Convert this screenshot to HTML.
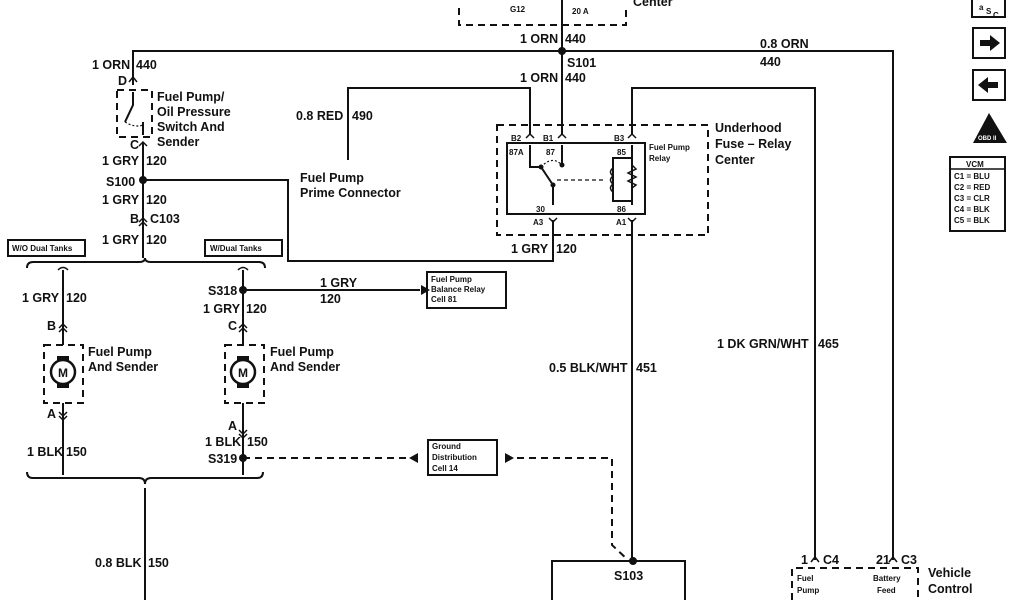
<!DOCTYPE html>
<html><head><meta charset="utf-8"><style>
html,body{margin:0;padding:0;background:#fff;}
svg{display:block;}
text{font-family:"Liberation Sans",sans-serif;font-weight:bold;fill:#111;}
</style></head><body>
<svg width="1024" height="600" viewBox="0 0 1024 600" xmlns="http://www.w3.org/2000/svg">
<g stroke="#111" stroke-width="2" fill="none">
<path d="M459 8 V25 H626 V8" stroke-dasharray="7,5"/>
<path d="M562 0 V51"/>
<path d="M133 85 V51 H893 V560"/>
<path d="M562 51 V135"/>
<rect x="117" y="90" width="35" height="47" stroke-dasharray="7,5"/>
<path d="M133 92 V105 L125 122"/>
<path d="M125 122 Q135 128 143 125" stroke-dasharray="2,2" stroke-width="1.2"/>
<path d="M143 122 V135"/>
<path d="M143 143 V258"/>
<path d="M143 180 H288 V261 H553 V220"/>
<path d="M348 160 V88 H530 V135"/>
<path d="M632 135 V88 H815 V560"/>
<path d="M632 220 V562"/>
<rect x="497" y="125" width="211" height="110" stroke-dasharray="7,5"/>
<rect x="507" y="143" width="138" height="71"/>
<path d="M530 145 V167 H541 L553 185 V205"/>
<path d="M541 167 Q552 155 562 165" stroke-dasharray="2,2" stroke-width="1.2"/>
<path d="M562 145 V165"/>
<path d="M557 180 H603" stroke-dasharray="4,3" stroke-width="1.2"/>
<path d="M632 145 V205"/>
<path d="M632 158 H613 V201 H632"/>
<path d="M613 168 q-5 4 0 8 q-5 4 0 8 q-5 4 0 8" stroke-width="1.5"/>
<path d="M632 165 l4 4 -8 4 8 4 -8 4 8 4 -4 3" stroke-width="1.5"/>
<rect x="8" y="240" width="77" height="16" stroke-width="2"/>
<rect x="205" y="240" width="77" height="16" stroke-width="2"/>
<path d="M27 268 Q27 262 33 262 H139 Q145 262 145 258 Q145 262 151 262 H259 Q265 262 265 268"/>
<path d="M63 270 V345 M63 403 V475"/>
<path d="M58 270 Q63 265 68 270" stroke-width="1.5"/>
<rect x="44" y="345" width="39" height="58" stroke-dasharray="7,5"/>
<circle cx="63" cy="372" r="12" stroke-width="2.5"/>
<path d="M243 270 V345 M243 403 V475"/>
<path d="M238 270 Q243 265 248 270" stroke-width="1.5"/>
<rect x="225" y="345" width="39" height="58" stroke-dasharray="7,5"/>
<circle cx="243" cy="372" r="12" stroke-width="2.5"/>
<path d="M243 290 H420"/>
<rect x="427" y="272" width="79" height="36"/>
<path d="M243 458 H418" stroke-dasharray="7,5"/>
<rect x="428" y="440" width="69" height="35"/>
<path d="M505 458 H612 V545 L628 560" stroke-dasharray="7,5"/>
<path d="M27 472 Q27 478 33 478 H139 Q145 478 145 484 Q145 478 151 478 H257 Q263 478 263 472"/>
<path d="M145 488 V600"/>
<path d="M552 600 V561 H685 V600"/>
<path d="M792 600 V568 H918 V600" stroke-dasharray="7,5"/>
<rect x="972" y="-2" width="33" height="19"/>
<rect x="973" y="28" width="32" height="30"/>
<rect x="973" y="70" width="32" height="30"/>
<rect x="950" y="157" width="55" height="74"/>
<path d="M950 169 H1005" stroke-width="1.5"/>
</g>
<g fill="#111">
<path d="M980 40 h10 v-5 l10 8 -10 8 v-5 h-10z"/>
<path d="M998 82 h-10 v-5 l-10 8 10 8 v-5 h10z"/>
<path d="M989 113 L973 143 H1007Z"/>
<path d="M421 285 L430 290 421 295Z"/>
<path d="M418 453 L409 458 418 463Z"/>
<path d="M505 453 L514 458 505 463Z"/>
<circle cx="143" cy="180" r="4"/>
<circle cx="562" cy="51" r="4"/>
<circle cx="243" cy="290" r="4"/>
<circle cx="243" cy="458" r="4"/>
<circle cx="633" cy="561" r="4"/>
<circle cx="541" cy="167" r="2.5"/><circle cx="562" cy="165" r="2.5"/><circle cx="553" cy="185" r="2.5"/>
<rect x="57" y="356" width="12" height="5"/><rect x="57" y="383" width="12" height="5"/>
<rect x="237" y="356" width="12" height="5"/><rect x="237" y="383" width="12" height="5"/>
</g>
<g stroke="#111" stroke-width="1.5" fill="none">
<path d="M129 82 l4 -5 4 5 M139 146 l4 -4 4 4 M139 222 l4 -4 4 4 M139 226 l4 -4 4 4"/>
<path d="M526 138 l4 -4 4 4 M558 138 l4 -4 4 4 M628 138 l4 -4 4 4 M549 218 l4 4 4 -4 M628 218 l4 4 4 -4"/>
<path d="M59 328 l4 -4 4 4 M59 332 l4 -4 4 4 M59 412 l4 4 4 -4 M59 416 l4 4 4 -4"/>
<path d="M239 328 l4 -4 4 4 M239 332 l4 -4 4 4 M239 430 l4 4 4 -4 M239 434 l4 4 4 -4"/>
<path d="M811 562 l4 -5 4 5 M889 562 l4 -5 4 5"/>
</g>
<g font-size="12.5">
<text x="58" y="377" font-size="12">M</text><text x="238" y="377" font-size="12">M</text>
<text x="92" y="69">1 ORN</text><text x="136" y="69">440</text>
<text x="118" y="85">D</text>
<text x="157" y="101">Fuel Pump/</text><text x="157" y="116">Oil Pressure</text><text x="157" y="131">Switch And</text><text x="157" y="146">Sender</text>
<text x="130" y="149">C</text>
<text x="102" y="165">1 GRY</text><text x="146" y="165">120</text>
<text x="106" y="186">S100</text>
<text x="102" y="204">1 GRY</text><text x="146" y="204">120</text>
<text x="130" y="223">B</text><text x="150" y="223">C103</text>
<text x="102" y="244">1 GRY</text><text x="146" y="244">120</text>
<text x="296" y="120">0.8 RED</text><text x="352" y="120">490</text>
<text x="300" y="182">Fuel Pump</text><text x="300" y="197">Prime Connector</text>
<text x="520" y="43">1 ORN</text><text x="565" y="43">440</text>
<text x="567" y="67">S101</text>
<text x="520" y="82">1 ORN</text><text x="565" y="82">440</text>
<text x="760" y="48">0.8 ORN</text><text x="760" y="66">440</text>
<text x="715" y="132">Underhood</text><text x="715" y="148">Fuse – Relay</text><text x="715" y="164">Center</text>
<text x="633" y="6">Center</text>
<text x="511" y="253">1 GRY</text><text x="556" y="253">120</text>
<text x="22" y="302">1 GRY</text><text x="66" y="302">120</text>
<text x="47" y="330">B</text><text x="47" y="418">A</text>
<text x="88" y="356">Fuel Pump</text><text x="88" y="371">And Sender</text>
<text x="27" y="456">1 BLK</text><text x="66" y="456">150</text>
<text x="208" y="295">S318</text>
<text x="203" y="313">1 GRY</text><text x="246" y="313">120</text>
<text x="228" y="330">C</text><text x="228" y="430">A</text>
<text x="270" y="356">Fuel Pump</text><text x="270" y="371">And Sender</text>
<text x="205" y="446">1 BLK</text><text x="247" y="446">150</text>
<text x="208" y="463">S319</text>
<text x="320" y="287">1 GRY</text><text x="320" y="303">120</text>
<text x="549" y="372">0.5 BLK/WHT</text><text x="636" y="372">451</text>
<text x="717" y="348">1 DK GRN/WHT</text><text x="818" y="348">465</text>
<text x="95" y="567">0.8 BLK</text><text x="148" y="567">150</text>
<text x="614" y="580">S103</text>
<text x="801" y="564">1</text><text x="823" y="564">C4</text>
<text x="876" y="564">21</text><text x="901" y="564">C3</text>
<text x="928" y="577">Vehicle</text><text x="928" y="593">Control</text>
</g>
<g font-size="8">
<text x="12" y="251">W/O Dual Tanks</text><text x="210" y="251">W/Dual Tanks</text>
<text x="431" y="282">Fuel Pump</text><text x="431" y="292">Balance Relay</text><text x="431" y="302">Cell 81</text>
<text x="432" y="449">Ground</text><text x="432" y="460">Distribution</text><text x="432" y="471">Cell 14</text>
<text x="511" y="141">B2</text><text x="543" y="141">B1</text><text x="614" y="141">B3</text>
<text x="509" y="155">87A</text><text x="546" y="155">87</text><text x="617" y="155">85</text>
<text x="536" y="212">30</text><text x="617" y="212">86</text>
<text x="533" y="225">A3</text><text x="616" y="225">A1</text>
<text x="649" y="150">Fuel Pump</text><text x="649" y="161">Relay</text>
<text x="510" y="12">G12</text><text x="572" y="14">20 A</text>
<text x="797" y="581">Fuel</text><text x="797" y="593">Pump</text>
<text x="873" y="581">Battery</text><text x="877" y="593">Feed</text>
<text x="966" y="167">VCM</text>
<text x="954" y="179">C1 = BLU</text><text x="954" y="190">C2 = RED</text><text x="954" y="201">C3 = CLR</text><text x="954" y="212">C4 = BLK</text><text x="954" y="223">C5 = BLK</text>
<text x="979" y="10">a</text><text x="986" y="14">S</text><text x="993" y="18">C</text>
</g>
<text x="978" y="140" font-size="6" style="fill:#fff">OBD II</text>
</svg>
</body></html>
